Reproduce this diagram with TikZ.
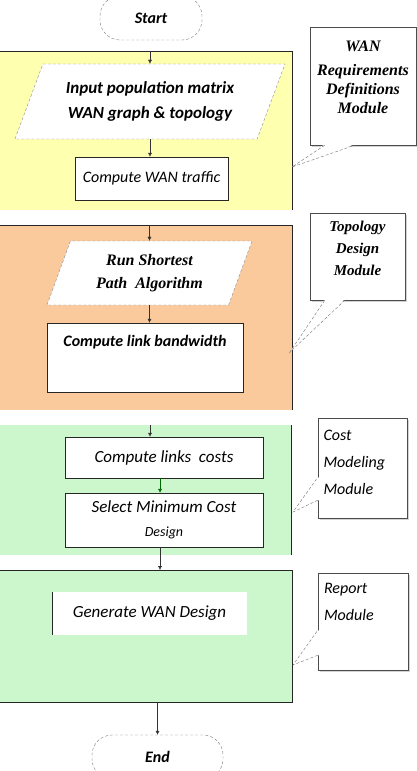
\documentclass[tikz,border=0pt]{standalone}
\usepackage{fontspec}
\setmainfont{Carlito}
\newfontfamily\timesbi{Liberation Serif}
\usetikzlibrary{positioning,arrows.meta,shapes.geometric,shadows}

\definecolor{reqyellow}{HTML}{FFFFB0}
\definecolor{toporange}{HTML}{FAC99C}
\definecolor{costgreen}{HTML}{CCF6CC}

\tikzset{
  panel/.style={rectangle, inner sep=0pt, anchor=north west},
  edge/.style={black!85, thin},
  flow/.style={-{Latex[length=4pt,width=4pt]}, black!80},
  terminal/.style={rectangle, rounded corners=20pt, draw=black!50, densely dashed, fill=white, minimum height=44pt, font=\bfseries\itshape\fontsize{16}{18}\selectfont},
  io/.style={trapezium, trapezium stretches body=true, draw=black!45, densely dashed, fill=white, align=center, inner sep=0pt},
  proc/.style={rectangle, draw=black!85, fill=white, inner sep=3pt, font=\itshape\fontsize{17}{20}\selectfont},
  note/.style={rectangle, draw=black!70, fill=white, inner sep=4pt, drop shadow={shadow xshift=2pt, shadow yshift=-2pt, opacity=0.35}},
  pointer/.style={black!55, densely dashed}
}

\begin{document}
\begin{tikzpicture}[x=1pt, y=-1pt]
\useasboundingbox (0,0) rectangle (417,771);
% module panels
\node[panel, fill=reqyellow, minimum width=292pt, minimum height=159pt] (reqpanel) at (0,51) {};
\node[panel, fill=toporange, minimum width=292pt, minimum height=185pt] (toppanel) at (0,225) {};
\node[panel, fill=costgreen, minimum width=291pt, minimum height=130pt] (costpanel) at (0,425) {};
\node[panel, fill=costgreen, minimum width=292pt, minimum height=132pt] (reppanel) at (0,570) {};
\draw[edge] (reqpanel.north west) -- (reqpanel.north east) -- (reqpanel.south east);
\draw[edge] (toppanel.north west) -- (toppanel.north east) -- (toppanel.south east);
\draw[edge] (costpanel.north east) -- (costpanel.south east);
\draw[edge] (reppanel.north west) -- (reppanel.north east) -- (reppanel.south east) -- (reppanel.south west);

% flow chart
\node[terminal, minimum width=102pt] (start) at (151,18) {Start};
\node[io, minimum width=270pt, minimum height=75pt, trapezium left angle=55, trapezium right angle=125,
  font=\bfseries\itshape\fontsize{17}{25}\selectfont] (inp) at (150,101.5) {Input population matrix\\WAN graph \& topology};
\node[proc, minimum width=153pt, minimum height=43pt, font=\itshape\fontsize{16}{19}\selectfont] (traffic) at (151.5,178.5) {Compute WAN traffic};
\node[io, minimum width=205pt, minimum height=64pt, trapezium left angle=58, trapezium right angle=122,
  font=\timesbi\bfseries\itshape\fontsize{16}{23}\selectfont] (path) at (149.5,273) {Run Shortest\\Path\ \ Algorithm};
\node[proc, minimum width=196pt, minimum height=69pt, text depth=33pt, font=\bfseries\itshape\fontsize{16}{19}\selectfont] (bw) at (145,357.5) {Compute link bandwidth};
\node[proc, minimum width=198pt, minimum height=41pt] (links) at (164,457.5) {Compute links\ \ costs};
\node[proc, minimum width=198pt, minimum height=54pt, align=center] (select) at (164,520) {Select Minimum Cost\\[4pt]{\fontsize{14}{15}\selectfont Design}};
\node[proc, draw=none, minimum width=195pt, minimum height=43pt] (gen) at (149.5,613.5) {Generate WAN Design};
\draw[edge] (gen.north west) -- (gen.south west);
\node[terminal, minimum width=131pt] (end) at (157.5,757) {End};

\draw[flow] (inp.center |- reqpanel.north) -- (inp.center |- inp.north);
\draw[flow] (inp.center |- inp.south) -- (inp.center |- traffic.north);
\draw[flow] (path.center |- toppanel.north) -- (path.center |- path.north);
\draw[flow] (path.center |- path.south) -- (path.center |- bw.north);
\draw[flow] ([xshift=-14pt]links.north |- costpanel.north) -- ([xshift=-14pt]links.north);
\draw[flow, green!40!black] ([xshift=-4pt]links.south) -- ([xshift=-4pt]select.north);
\draw[flow] ([xshift=-4pt]select.south) -- ([xshift=-4pt]select.south |- reppanel.north);
\draw[flow] (end.north |- reppanel.south) -- (end.north);

% module callouts
\node[note, minimum width=106pt, minimum height=118pt, text depth=18pt, align=center,
  font=\timesbi\bfseries\itshape\fontsize{16}{19}\selectfont] (reqnote) at (363,86) {WAN\\[5pt]Requirements\\Definitions\\Module};
\coordinate (reqtip) at (292,167);
\fill[white] ([xshift=15pt,yshift=1pt]reqnote.south west) -- (reqtip) -- ([xshift=45pt,yshift=1pt]reqnote.south west) -- cycle;
\draw[pointer] ([xshift=15pt]reqnote.south west) -- (reqtip) -- ([xshift=45pt]reqnote.south west);

\node[note, minimum width=95pt, minimum height=87pt, text depth=16pt, align=center,
  font=\timesbi\bfseries\itshape\fontsize{15}{22}\selectfont] (topnote) at (357.5,256.5) {Topology\\Design\\Module};
\coordinate (toptip) at (290,352);
\fill[white] ([xshift=15pt,yshift=1pt]topnote.south west) -- (toptip) -- ([xshift=35pt,yshift=1pt]topnote.south west) -- cycle;
\draw[pointer] ([xshift=15pt]topnote.south west) -- (toptip) -- ([xshift=35pt]topnote.south west);

\node[note, minimum width=89pt, minimum height=100pt, text width=78pt, text depth=66pt, align=left,
  font=\itshape\fontsize{16}{27}\selectfont] (costnote) at (362.5,468) {Cost\\Modeling\\Module};
\coordinate (costtip) at (293,512);
\fill[white] ([xshift=1pt,yshift=18pt]costnote.south west) -- (costtip) -- ([xshift=1pt,yshift=41pt]costnote.south west) -- cycle;
\draw[pointer] ([yshift=18pt]costnote.south west) -- (costtip) -- ([yshift=41pt]costnote.south west);

\node[note, minimum width=90pt, minimum height=97pt, text width=78pt, text depth=66pt, align=left,
  font=\itshape\fontsize{16}{27}\selectfont] (repnote) at (363,621.5) {Report\\Module};
\coordinate (reptip) at (293,665);
\fill[white] ([xshift=1pt,yshift=15pt]repnote.south west) -- (reptip) -- ([xshift=1pt,yshift=40pt]repnote.south west) -- cycle;
\draw[pointer] ([yshift=15pt]repnote.south west) -- (reptip) -- ([yshift=40pt]repnote.south west);
\end{tikzpicture}
\end{document}
